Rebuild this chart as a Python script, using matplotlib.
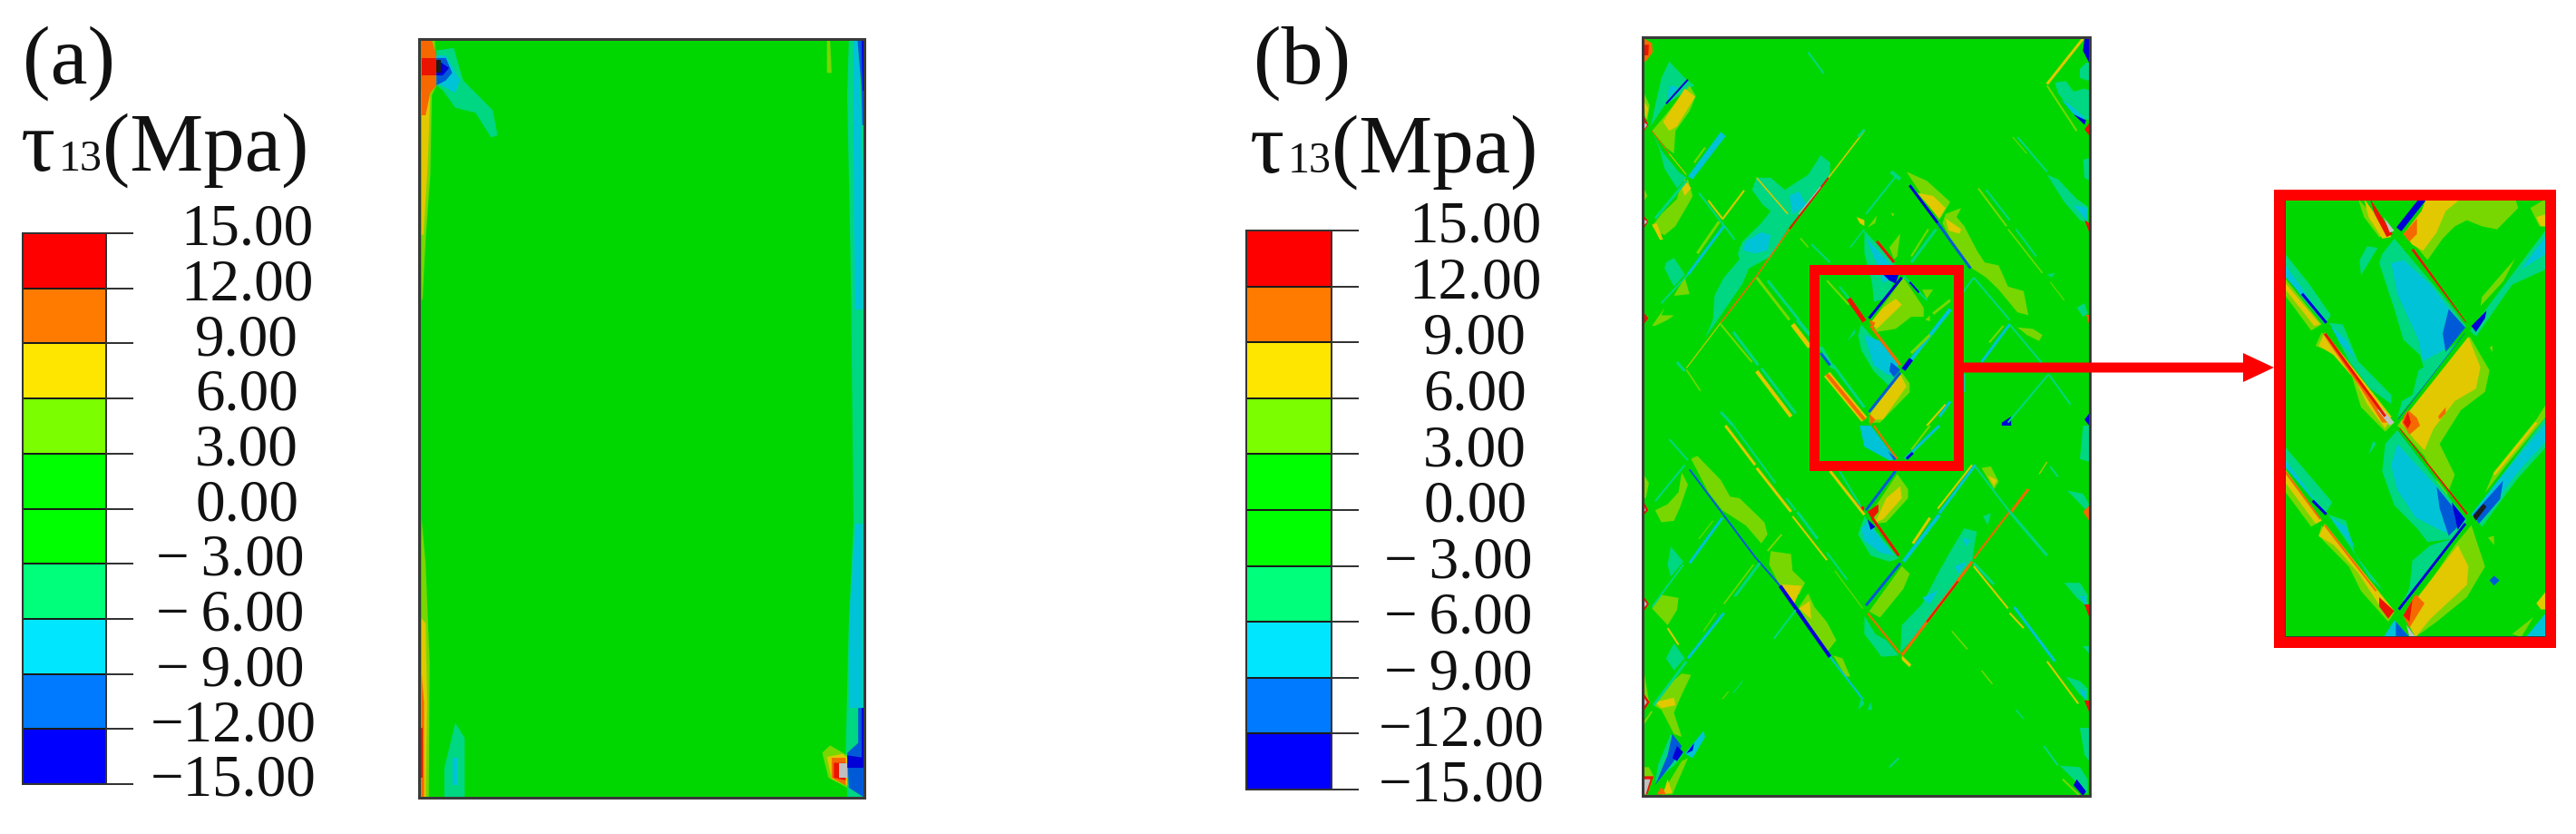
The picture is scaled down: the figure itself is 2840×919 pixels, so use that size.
import numpy as np
import matplotlib
matplotlib.use('Agg')
import matplotlib.pyplot as plt
from matplotlib.cm import ScalarMappable
from matplotlib.colors import BoundaryNorm, ListedColormap
from matplotlib.patches import Rectangle

plt.rcParams['font.family'] = ['Liberation Serif', 'DejaVu Serif']

W, H = 2840, 920
PX = 0.72  # one reference pixel in points at dpi 100

# legend of the contour plot
levels = [-15, -12, -9, -6, -3, 0, 3, 6, 9, 12, 15]
tick_labels = ['\u221215.00', '\u221212.00', '\u2212\u20099.00', '\u2212\u20096.00', '\u2212\u20093.00',
               '0.00', '3.00', '6.00', '9.00', '12.00', '15.00']
legend_colors = ['#0000ff', '#007bff', '#00e6ff', '#00ff7b', '#00ff00',
                 '#00ff00', '#7bff00', '#ffe600', '#ff7b00', '#ff0000']
field_colors = ['#0000d7', '#005ad7', '#00c3d7', '#00d782', '#00d700',
                '#00d700', '#78d700', '#e1c800', '#f56900', '#eb1400']

# stress value (MPa) standing for each contour band
LIME, YEL, ORG, RED, OVER = 4.5, 7.5, 10.5, 13.5, 18
TEAL, CYAN, BLUE, DEEP, UNDER = -4.5, -7.5, -10.5, -13.5, -18
MID = 0

# panel (a): contour regions
regions_a = [
    (LIME, [(72, 30), (115, 30), (120, 120), (105, 140), (100, 300), (85, 430), (75, 550), (72, 550)]),
    (YEL, [(72, 130), (100, 130), (92, 280), (78, 420), (72, 420)]),
    (ORG, [(72, 30), (105, 30), (120, 60), (120, 120), (100, 135), (85, 180), (72, 180)]),
    (RED, [(72, 65), (120, 65), (120, 100), (72, 100)]),
    (TEAL, [(120, 50), (175, 45), (205, 110), (300, 170), (315, 220), (295, 225), (245, 175), (180, 165), (140, 130), (120, 120)]),
    (CYAN, [(120, 60), (150, 60), (195, 110), (180, 135), (120, 115)]),
    (BLUE, [(120, 65), (150, 65), (170, 95), (150, 110), (120, 120)]),
    (DEEP, [(120, 68), (160, 85), (140, 100), (120, 100)]),
    (UNDER, [(120, 68), (135, 68), (135, 95), (120, 95)]),
    (LIME, [(72, 990), (85, 1080), (98, 1280), (95, 1550), (72, 1550)]),
    (YEL, [(72, 1190), (85, 1200), (90, 1360), (85, 1550), (72, 1550)]),
    (ORG, [(72, 1300), (80, 1360), (80, 1550), (72, 1550)]),
    (RED, [(68, 1410), (75, 1410), (75, 1510), (68, 1510)]),
    (TEAL, [(180, 1400), (210, 1430), (210, 1550), (145, 1550), (145, 1490)]),
    (CYAN, [(172, 1470), (185, 1470), (185, 1525), (172, 1525)]),
    (LIME, [(1370, 30), (1380, 30), (1385, 95), (1370, 95)]),
    (TEAL, [(1440, 30), (1490, 30), (1490, 1550), (1435, 1550), (1430, 1460), (1440, 1200), (1455, 1000), (1450, 700), (1445, 450), (1435, 140)]),
    (CYAN, [(1455, 30), (1470, 30), (1485, 300), (1485, 570), (1460, 570), (1455, 250)]),
    (BLUE, [(1468, 30), (1490, 30), (1490, 200), (1483, 200), (1480, 120)]),
    (DEEP, [(1480, 30), (1490, 30), (1490, 130), (1485, 130)]),
    (CYAN, [(1460, 1000), (1485, 1000), (1485, 1370), (1440, 1370), (1440, 1200)]),
    (BLUE, [(1470, 1370), (1490, 1370), (1490, 1550), (1440, 1530), (1435, 1460), (1470, 1440)]),
    (DEEP, [(1480, 1370), (1490, 1370), (1490, 1470), (1480, 1470)]),
    (DEEP, [(1435, 1465), (1490, 1470), (1490, 1490), (1435, 1490)]),
    (LIME, [(1355, 1460), (1380, 1445), (1435, 1465), (1435, 1530), (1375, 1510)]),
    (YEL, [(1370, 1468), (1420, 1462), (1435, 1470), (1435, 1525), (1385, 1512)]),
    (ORG, [(1385, 1470), (1430, 1470), (1430, 1525), (1385, 1510)]),
    (RED, [(1392, 1480), (1430, 1480), (1430, 1515), (1392, 1510)]),
    (OVER, [(1410, 1480), (1435, 1480), (1435, 1510), (1410, 1510)]),
]

# panel (b), upper half: regions, then (value, width, points) streaks
regions_b_top = [
    (ORG, [(92, 68), (120, 85), (122, 115), (100, 145), (92, 145)]),
    (RED, [(92, 90), (110, 90), (108, 125), (92, 125)]),
    (LIME, [(92, 245), (112, 290), (105, 340), (92, 320)]),
    (YEL, [(95, 280), (108, 300), (100, 340)]),
    (RED, [(92, 320), (108, 355), (95, 375), (90, 370)]),
    (OVER, [(92, 345), (105, 355), (95, 370)]),
    (RED, [(90, 650), (108, 675), (92, 700)]),
    (OVER, [(90, 665), (105, 675), (92, 690)]),
    (RED, [(90, 970), (108, 995), (90, 1020)]),
    (LIME, [(92, 560), (105, 590), (92, 610)]),
    (TEAL, [(175, 145), (225, 200), (255, 225), (160, 290), (115, 360), (150, 200)]),
    (CYAN, [(175, 225), (205, 230), (170, 270)]),
    (LIME, [(240, 225), (260, 260), (240, 310), (195, 375), (190, 450), (165, 430), (120, 375), (165, 320)]),
    (YEL, [(225, 235), (258, 262), (200, 360), (175, 375), (155, 345)]),
    (TEAL, [(125, 385), (150, 440), (205, 510), (230, 530), (200, 565), (160, 500), (145, 440)]),
    (CYAN, [(340, 378), (356, 392), (250, 535), (235, 525)]),
    (LIME, [(235, 535), (250, 590), (240, 610), (195, 690), (160, 720), (140, 710), (120, 690), (150, 650), (200, 600), (210, 560)]),
    (YEL, [(225, 535), (245, 565), (225, 590), (215, 565)]),
    (YEL, [(120, 685), (135, 680), (155, 735), (145, 735)]),
    (TEAL, [(165, 810), (190, 795), (225, 850), (190, 890), (160, 830)]),
    (LIME, [(190, 920), (225, 860), (240, 915), (195, 920)]),
    (LIME, [(120, 1020), (160, 960), (150, 985), (190, 985), (170, 1000), (130, 1020)]),
    (TEAL, [(455, 530), (500, 530), (545, 570), (620, 520), (660, 455), (690, 480), (690, 520), (600, 640), (560, 690), (500, 790), (430, 830), (410, 880), (340, 985), (290, 1060), (315, 1000), (320, 920), (350, 860), (400, 800), (395, 780), (410, 740), (470, 680), (500, 640), (475, 620), (440, 570)]),
    (CYAN, [(560, 590), (590, 575), (615, 620), (570, 650)]),
    (CYAN, [(420, 740), (470, 710), (500, 720), (490, 770), (450, 780), (410, 770)]),
    (LIME, [(935, 510), (1000, 540), (1075, 610), (1040, 670), (985, 590)]),
    (YEL, [(970, 580), (1020, 590), (1060, 630), (1040, 665)]),
    (LIME, [(1060, 650), (1110, 630), (1095, 660), (1120, 690), (1160, 770), (1185, 810), (1230, 820), (1260, 890), (1310, 905), (1325, 985), (1290, 975), (1230, 900), (1190, 860), (1145, 830), (1090, 760), (1050, 680)]),
    (YEL, [(1060, 665), (1110, 700), (1105, 715), (1070, 705)]),
    (YEL, [(775, 660), (800, 670), (800, 690), (785, 680)]),
    (LIME, [(810, 695), (840, 655), (835, 680)]),
    (LIME, [(885, 645), (897, 650), (890, 658)]),
    (TEAL, [(800, 705), (895, 810), (905, 850), (870, 930), (830, 940), (825, 880), (800, 780)]),
    (CYAN, [(805, 730), (880, 810), (900, 850), (860, 880), (840, 815)]),
    (LIME, [(880, 760), (915, 715), (905, 790), (895, 800)]),
    (DEEP, [(860, 850), (910, 850), (900, 880), (880, 870)]),
    (LIME, [(925, 860), (990, 960), (990, 990), (950, 990), (900, 1030), (840, 1040), (820, 1010)]),
    (YEL, [(860, 960), (900, 930), (920, 950), (880, 990), (840, 1030), (820, 1010)]),
    (ORG, [(815, 1000), (835, 1010), (825, 1030)]),
    (LIME, [(985, 900), (1020, 900), (1000, 930)]),
    (LIME, [(995, 1000), (1010, 985), (1010, 1005)]),
    (TEAL, [(745, 1070), (770, 1030), (770, 1045)]),
    (TEAL, [(790, 1015), (915, 1165), (880, 1220), (830, 1170), (790, 1100), (780, 1050)]),
    (CYAN, [(800, 1050), (850, 1070), (910, 1150), (880, 1185), (830, 1150)]),
    (BLUE, [(885, 1140), (915, 1165), (895, 1190), (880, 1170)]),
    (LIME, [(920, 1175), (945, 1210), (945, 1240), (850, 1340), (815, 1340), (815, 1310)]),
    (YEL, [(915, 1180), (935, 1220), (860, 1330), (825, 1330), (820, 1310)]),
    (ORG, [(815, 1310), (835, 1330), (820, 1350)]),
    (LIME, [(1290, 1025), (1340, 1030), (1370, 1050), (1360, 1070), (1320, 1050)]),
    (DEEP, [(1240, 1340), (1270, 1320), (1270, 1350), (1240, 1350)]),
    (DEEP, [(1505, 1330), (1520, 1310), (1520, 1350)]),
    (DEEP, [(1505, 70), (1520, 70), (1520, 150), (1500, 110)]),
    (TEAL, [(1510, 150), (1520, 150), (1520, 210), (1490, 200), (1490, 170)]),
    (TEAL, [(1410, 215), (1445, 210), (1470, 245), (1505, 235), (1520, 240), (1520, 340), (1490, 330), (1450, 290), (1420, 250)]),
    (CYAN, [(1430, 270), (1460, 290), (1505, 330), (1505, 350), (1470, 320)]),
    (DEEP, [(1470, 320), (1510, 340), (1505, 355)]),
    (RED, [(1520, 350), (1505, 370), (1520, 390)]),
    (TEAL, [(1385, 520), (1420, 535), (1480, 600), (1515, 625), (1515, 680), (1490, 670), (1440, 610)]),
    (CYAN, [(1470, 620), (1515, 630), (1515, 675)]),
    (TEAL, [(1500, 470), (1520, 465), (1520, 540), (1505, 530)]),
    (TEAL, [(1385, 850), (1410, 845), (1400, 860)]),
    (RED, [(1505, 670), (1520, 680), (1520, 710)]),
    (TEAL, [(1480, 960), (1505, 945), (1515, 980), (1500, 990)]),
    (ORG, [(1510, 985), (1520, 985), (1520, 1015)]),
]
streaks_b_top = [
    (DEEP, 2, [(235, 205), (165, 285)]),
    (ORG, 1, [(120, 375), (175, 450)]),
    (YEL, 1, [(175, 450), (230, 520)]),
    (LIME, 2, [(290, 430), (255, 480)]),
    (TEAL, 3, [(230, 540), (130, 665)]),
    (YEL, 2, [(415, 572), (345, 668)]),
    (LIME, 3, [(335, 675), (265, 780)]),
    (TEAL, 2, [(270, 580), (385, 735)]),
    (YEL, 2, [(300, 605), (345, 665)]),
    (CYAN, 3, [(350, 690), (235, 850)]),
    (TEAL, 2, [(235, 850), (150, 945)]),
    (YEL, 1.5, [(800, 375), (685, 530)]),
    (RED, 2, [(685, 530), (560, 700)]),
    (OVER, 1, [(660, 560), (590, 650)]),
    (ORG, 1.5, [(560, 700), (455, 855)]),
    (ORG, 1.5, [(455, 855), (340, 1010)]),
    (YEL, 1, [(340, 1010), (230, 1160)]),
    (YEL, 1.5, [(455, 530), (555, 650)]),
    (TEAL, 2, [(400, 760), (450, 810)]),
    (LIME, 3, [(455, 860), (560, 1000)]),
    (TEAL, 3, [(490, 870), (590, 1000)]),
    (LIME, 2, [(340, 1015), (440, 1140)]),
    (TEAL, 3, [(380, 1040), (460, 1150)]),
    (YEL, 4, [(455, 1170), (565, 1320)]),
    (TEAL, 3, [(470, 1160), (580, 1310)]),
    (YEL, 5, [(570, 1015), (625, 1090)]),
    (TEAL, 4, [(585, 1000), (625, 1050)]),
    (LIME, 1.5, [(230, 1165), (275, 1235)]),
    (TEAL, 3, [(200, 1140), (225, 1170)]),
    (TEAL, 3, [(340, 1305), (380, 1350)]),
    (TEAL, 2, [(620, 115), (670, 185)]),
    (TEAL, 3, [(800, 370), (780, 395)]),
    (TEAL, 2, [(905, 520), (805, 650)]),
    (TEAL, 4, [(885, 510), (915, 535)]),
    (DEEP, 3, [(945, 555), (1035, 680)]),
    (BLUE, 3, [(1035, 680), (1140, 830)]),
    (TEAL, 3, [(1030, 700), (950, 810)]),
    (LIME, 2, [(1005, 700), (950, 790)]),
    (TEAL, 1.5, [(800, 700), (755, 760)]),
    (RED, 3, [(840, 740), (895, 810)]),
    (DEEP, 3, [(920, 860), (815, 995)]),
    (TEAL, 2, [(925, 855), (1000, 935)]),
    (DEEP, 2, [(945, 875), (975, 910)]),
    (LIME, 3, [(1020, 980), (1075, 935)]),
    (LIME, 2, [(680, 870), (750, 950)]),
    (TEAL, 2, [(720, 890), (755, 935)]),
    (RED, 5, [(750, 930), (800, 1005)]),
    (ORG, 3, [(820, 1020), (915, 1150)]),
    (CYAN, 4, [(925, 1165), (1075, 965)]),
    (DEEP, 5, [(925, 1165), (950, 1130)]),
    (LIME, 3, [(950, 1110), (1010, 1050)]),
    (BLUE, 3, [(915, 1175), (815, 1305)]),
    (YEL, 8, [(680, 1180), (800, 1330)]),
    (ORG, 4, [(680, 1180), (800, 1330)]),
    (TEAL, 3, [(700, 1150), (800, 1290)]),
    (TEAL, 4, [(660, 1090), (700, 1160)]),
    (BLUE, 3, [(660, 1110), (690, 1150)]),
    (TEAL, 2, [(1150, 860), (1115, 910)]),
    (TEAL, 2, [(1150, 860), (1265, 1000)]),
    (LIME, 2, [(1245, 1020), (1200, 1075)]),
    (CYAN, 3, [(1265, 1015), (1175, 1140)]),
    (TEAL, 2, [(1265, 1015), (1370, 1145)]),
    (TEAL, 2, [(1390, 1180), (1260, 1340)]),
    (TEAL, 2, [(1390, 1180), (1460, 1280)]),
    (CYAN, 4, [(1115, 1180), (1115, 1240)]),
    (YEL, 2, [(1060, 1280), (1000, 1350)]),
    (CYAN, 3, [(1075, 1270), (1040, 1320)]),
    (YEL, 3, [(1500, 70), (1385, 220)]),
    (LIME, 2, [(1385, 225), (1480, 375)]),
    (TEAL, 2, [(1290, 395), (1385, 510)]),
    (LIME, 1, [(1275, 395), (1320, 450)]),
    (LIME, 2, [(1165, 565), (1255, 690)]),
    (TEAL, 2, [(1190, 570), (1265, 670)]),
    (LIME, 1.5, [(1260, 700), (1370, 845)]),
    (TEAL, 2, [(1285, 700), (1350, 790)]),
    (LIME, 1, [(1395, 875), (1440, 935)]),
    (LIME, 1.5, [(595, 730), (620, 760)]),
    (TEAL, 2, [(630, 750), (690, 810)]),
]

# panel (b), lower half, same form, counted from the middle of the panel
regions_b_low = [
    (LIME, [(245, 110), (265, 100), (340, 180), (370, 235), (400, 240), (480, 320), (490, 360), (470, 390), (420, 330), (375, 300), (345, 280), (300, 220)]),
    (LIME, [(215, 155), (235, 195), (210, 270), (190, 315), (150, 320), (130, 280), (170, 260), (205, 220)]),
    (LIME, [(92, 160), (110, 190), (100, 240), (92, 240)]),
    (RED, [(90, 245), (108, 280), (90, 300)]),
    (OVER, [(90, 255), (100, 280), (90, 290)]),
    (TEAL, [(180, 400), (220, 450), (180, 500), (170, 460)]),
    (LIME, [(150, 560), (205, 570), (200, 610), (170, 660), (120, 605)]),
    (RED, [(90, 560), (110, 590), (90, 620)]),
    (OVER, [(90, 572), (104, 590), (90, 608)]),
    (TEAL, [(190, 720), (225, 770), (190, 810), (165, 770)]),
    (LIME, [(215, 820), (245, 825), (215, 890), (190, 950), (215, 1030), (190, 1020), (150, 940), (125, 925), (170, 860)]),
    (YEL, [(130, 915), (190, 900), (195, 925), (150, 935)]),
    (LIME, [(92, 800), (105, 880), (110, 910), (92, 950)]),
    (RED, [(90, 880), (112, 915), (90, 950)]),
    (OVER, [(90, 895), (104, 915), (90, 935)]),
    (TEAL, [(180, 1020), (140, 1120), (130, 1180), (195, 1120), (220, 1085)]),
    (BLUE, [(185, 1020), (215, 1060), (190, 1110), (130, 1190), (170, 1090)]),
    (DEEP, [(200, 1060), (220, 1080), (200, 1110), (185, 1100)]),
    (CYAN, [(285, 1010), (290, 1030), (250, 1100), (225, 1085)]),
    (DEEP, [(255, 1050), (230, 1085), (250, 1075)]),
    (LIME, [(215, 1110), (235, 1100), (185, 1220), (150, 1220)]),
    (YEL, [(170, 1170), (185, 1215), (155, 1220)]),
    (ORG, [(150, 1195), (165, 1220), (135, 1220)]),
    (LIME, [(92, 1130), (110, 1130), (125, 1160), (105, 1220), (92, 1220)]),
    (RED, [(92, 1160), (125, 1160), (105, 1220), (92, 1220)]),
    (OVER, [(92, 1170), (115, 1170), (100, 1220), (92, 1220)]),
    (LIME, [(500, 415), (565, 425), (570, 480), (610, 520), (590, 560), (530, 530), (495, 460)]),
    (YEL, [(530, 525), (600, 530), (575, 590)]),
    (LIME, [(590, 600), (620, 555), (640, 600), (680, 650), (710, 710), (680, 750), (640, 690)]),
    (YEL, [(590, 605), (625, 580), (630, 640)]),
    (LIME, [(700, 760), (730, 770), (755, 830), (740, 830)]),
    (TEAL, [(790, 900), (800, 920), (780, 940)]),
    (TEAL, [(820, 915), (825, 940), (810, 940)]),
    (CYAN, [(785, 0), (820, 0), (900, 110), (880, 115), (800, 70)]),
    (BLUE, [(875, 85), (905, 110), (895, 115)]),
    (LIME, [(905, 160), (940, 210), (940, 240), (870, 320), (835, 325), (820, 290)]),
    (YEL, [(870, 240), (915, 200), (920, 240), (860, 310), (835, 320)]),
    (RED, [(810, 285), (845, 260), (845, 285), (825, 310)]),
    (RED, [(775, 255), (800, 270), (795, 295)]),
    (TEAL, [(800, 300), (910, 440), (880, 450), (820, 430), (780, 360)]),
    (CYAN, [(810, 320), (895, 430), (850, 420), (800, 380), (790, 340)]),
    (DEEP, [(810, 310), (835, 335), (820, 345)]),
    (LIME, [(920, 465), (945, 490), (925, 540), (850, 635), (815, 615)]),
    (TEAL, [(800, 630), (835, 690), (870, 710), (910, 760), (855, 765), (830, 730), (800, 690)]),
    (YEL, [(920, 760), (950, 790), (945, 800), (920, 775)]),
    (TEAL, [(915, 750), (920, 660), (985, 590), (1040, 480), (1090, 390), (1120, 340), (1160, 350), (1150, 410), (1145, 450), (1040, 590), (960, 700)]),
    (CYAN, [(985, 570), (1035, 545), (1010, 590)]),
    (CYAN, [(1090, 465), (1130, 450), (1100, 490)]),
    (CYAN, [(1115, 370), (1140, 380), (1125, 400)]),
    (TEAL, [(1180, 300), (1205, 290), (1195, 330)]),
    (LIME, [(1175, 140), (1205, 135), (1230, 185), (1215, 210)]),
    (YEL, [(1195, 165), (1225, 180), (1215, 200)]),
    (TEAL, [(1440, 520), (1490, 520), (1515, 560), (1515, 600), (1480, 570)]),
    (CYAN, [(1490, 565), (1510, 565), (1510, 600)]),
    (TEAL, [(1450, 215), (1500, 225), (1520, 260), (1510, 280)]),
    (ORG, [(1500, 285), (1520, 265), (1520, 315)]),
    (RED, [(1505, 590), (1520, 590), (1520, 630)]),
    (TEAL, [(1445, 830), (1490, 845), (1515, 870), (1515, 910), (1490, 890)]),
    (CYAN, [(1490, 870), (1510, 880), (1505, 910)]),
    (RED, [(1505, 910), (1520, 910), (1520, 945)]),
    (TEAL, [(1500, 0), (1520, 0), (1520, 120), (1490, 110), (1495, 60)]),
    (TEAL, [(1425, 1125), (1490, 1130), (1515, 1170), (1515, 1220), (1470, 1170)]),
    (DEEP, [(1480, 1170), (1510, 1210), (1500, 1225), (1470, 1190)]),
    (TEAL, [(1490, 1000), (1520, 1000), (1520, 1110), (1505, 1090)]),
    (TEAL, [(1500, 730), (1520, 730), (1520, 755)]),
]
streaks_b_low = [
    (TEAL, 2, [(175, 45), (235, 115)]),
    (TEAL, 2, [(225, 130), (130, 250)]),
    (BLUE, 2, [(240, 145), (345, 290)]),
    (BLUE, 2, [(345, 290), (450, 435)]),
    (BLUE, 2, [(450, 435), (530, 530)]),
    (DEEP, 4, [(530, 530), (690, 765)]),
    (CYAN, 2, [(690, 765), (795, 905)]),
    (CYAN, 3, [(345, 305), (240, 455)]),
    (LIME, 1, [(315, 315), (270, 375)]),
    (TEAL, 2, [(220, 460), (120, 600)]),
    (YEL, 2, [(170, 670), (205, 725)]),
    (CYAN, 3, [(350, 620), (235, 770)]),
    (LIME, 1, [(325, 620), (285, 680)]),
    (TEAL, 3, [(230, 780), (125, 925)]),
    (LIME, 2, [(120, 945), (90, 990)]),
    (YEL, 3, [(355, 0), (450, 130)]),
    (TEAL, 2, [(380, 0), (515, 190)]),
    (YEL, 3, [(455, 140), (565, 285)]),
    (TEAL, 2, [(550, 240), (580, 280)]),
    (YEL, 2, [(570, 300), (680, 445)]),
    (TEAL, 3, [(585, 285), (650, 375)]),
    (TEAL, 2, [(680, 420), (745, 510)]),
    (LIME, 1, [(705, 480), (795, 605)]),
    (LIME, 2, [(535, 360), (490, 415)]),
    (TEAL, 3, [(465, 455), (385, 565)]),
    (LIME, 1.5, [(445, 460), (350, 590)]),
    (TEAL, 2, [(580, 610), (510, 705)]),
    (LIME, 1, [(345, 905), (365, 880)]),
    (TEAL, 1, [(380, 885), (410, 845)]),
    (TEAL, 2, [(880, 1130), (910, 1100)]),
    (ORG, 2, [(830, 0), (905, 110)]),
    (LIME, 2, [(1010, 0), (950, 80)]),
    (CYAN, 3, [(1040, 0), (930, 110)]),
    (DEEP, 3, [(955, 90), (935, 110)]),
    (BLUE, 3, [(900, 150), (805, 280)]),
    (TEAL, 2, [(720, 150), (790, 270)]),
    (YEL, 3, [(690, 150), (800, 295)]),
    (RED, 3, [(825, 305), (910, 430)]),
    (BLUE, 3, [(915, 455), (805, 595)]),
    (ORG, 2, [(810, 620), (915, 755)]),
    (ORG, 3, [(920, 760), (1145, 450)]),
    (RED, 2, [(1000, 650), (1100, 515)]),
    (ORG, 2, [(1150, 440), (1265, 285)]),
    (ORG, 3, [(1270, 285), (1325, 210)]),
    (TEAL, 3, [(1150, 455), (1215, 525)]),
    (YEL, 2, [(1150, 465), (1260, 605)]),
    (TEAL, 3, [(1265, 285), (1385, 430)]),
    (CYAN, 3, [(1155, 130), (1040, 290)]),
    (YEL, 2, [(1145, 130), (1035, 275)]),
    (TEAL, 2, [(1155, 135), (1265, 285)]),
    (CYAN, 4, [(1040, 295), (925, 450)]),
    (YEL, 3, [(1010, 305), (955, 390)]),
    (CYAN, 3, [(1280, 600), (1410, 780)]),
    (YEL, 2, [(1265, 620), (1310, 670)]),
    (YEL, 2, [(1385, 780), (1485, 920)]),
    (LIME, 1.5, [(1080, 680), (1130, 740)]),
    (LIME, 1.5, [(1175, 810), (1210, 855)]),
    (YEL, 1, [(1385, 120), (1360, 160)]),
    (TEAL, 2, [(1395, 135), (1420, 170)]),
    (TEAL, 1.5, [(1285, 940), (1310, 970)]),
    (TEAL, 2, [(1375, 1060), (1420, 1125)]),
    (LIME, 2, [(1435, 1170), (1490, 1225)]),
]

# enlarged detail to the right of panel (b)
regions_zoom = [
    (LIME, [(360, 60), (470, 180), (430, 185), (380, 120)]),
    (YEL, [(380, 60), (470, 185), (440, 190), (395, 120)]),
    (RED, [(400, 60), (475, 175), (455, 185), (415, 110)]),
    (OVER, [(445, 120), (480, 165), (465, 170)]),
    (LIME, [(590, 60), (880, 60), (890, 90), (820, 160), (770, 150), (720, 130), (680, 150), (640, 190), (590, 260), (530, 190)]),
    (YEL, [(585, 60), (700, 60), (650, 100), (620, 170), (575, 230), (540, 210), (510, 175), (570, 100)]),
    (ORG, [(510, 175), (555, 125), (555, 175), (530, 200)]),
    (LIME, [(930, 90), (982, 60), (982, 150), (960, 150)]),
    (YEL, [(950, 120), (982, 110), (982, 150), (965, 150)]),
    (TEAL, [(480, 190), (720, 470), (650, 560), (580, 620), (565, 570), (510, 520), (480, 420), (430, 270), (440, 240)]),
    (CYAN, [(470, 270), (510, 260), (600, 340), (670, 430), (650, 550), (575, 590), (560, 520), (490, 370)]),
    (BLUE, [(660, 420), (715, 480), (650, 560), (640, 500)]),
    (TEAL, [(425, 220), (370, 310), (365, 260), (390, 215)]),
    (TEAL, [(982, 160), (982, 290), (870, 340), (750, 510), (730, 490)]),
    (CYAN, [(982, 180), (982, 240), (900, 290), (750, 490)]),
    (DEEP, [(785, 425), (735, 475), (750, 495), (780, 450)]),
    (LIME, [(880, 255), (770, 380), (765, 410), (840, 330)]),
    (TEAL, [(115, 235), (200, 340), (270, 440), (250, 470), (180, 390), (115, 300)]),
    (CYAN, [(115, 270), (180, 360), (250, 460), (115, 310)]),
    (LIME, [(115, 315), (240, 470), (205, 490), (160, 430), (115, 370)]),
    (YEL, [(115, 330), (235, 470), (215, 475), (115, 350)]),
    (TEAL, [(265, 465), (310, 470), (360, 590), (470, 700), (470, 730), (400, 680), (330, 590)]),
    (CYAN, [(270, 475), (320, 520), (350, 580), (300, 530)]),
    (LIME, [(240, 495), (300, 570), (480, 790), (450, 820), (370, 740), (340, 640), (270, 560), (220, 540)]),
    (YEL, [(250, 495), (470, 770), (450, 810), (390, 730), (350, 650), (280, 570), (230, 540)]),
    (ORG, [(245, 505), (420, 720), (470, 790), (440, 790), (370, 680), (270, 540)]),
    (OVER, [(430, 735), (480, 790), (465, 800), (425, 750)]),
    (TEAL, [(505, 720), (540, 700), (560, 620), (650, 560), (715, 505), (490, 775), (500, 740)]),
    (LIME, [(730, 510), (795, 620), (780, 690), (700, 750), (630, 860), (680, 960), (650, 1040), (580, 900), (490, 800)]),
    (YEL, [(725, 510), (765, 610), (750, 680), (680, 720), (610, 810), (580, 880), (550, 850), (500, 790)]),
    (ORG, [(520, 745), (555, 775), (565, 800), (530, 830), (505, 790)]),
    (RED, [(525, 755), (510, 790), (525, 810), (535, 790)]),
    (ORG, [(625, 770), (650, 740), (650, 760), (630, 780)]),
    (TEAL, [(490, 815), (720, 1110), (670, 1170), (590, 1180), (555, 1135), (480, 1060), (440, 950), (450, 860)]),
    (CYAN, [(490, 860), (620, 1000), (680, 1140), (650, 1150), (550, 1100), (490, 1010), (470, 930)]),
    (BLUE, [(620, 1000), (710, 1110), (660, 1160), (630, 1070)]),
    (DEEP, [(670, 1050), (715, 1105), (690, 1140)]),
    (TEAL, [(410, 850), (395, 895), (420, 860)]),
    (TEAL, [(982, 770), (982, 870), (890, 970), (770, 1130), (735, 1090), (830, 970)]),
    (CYAN, [(982, 790), (982, 850), (890, 950), (760, 1120), (735, 1090), (830, 970)]),
    (BLUE, [(840, 980), (740, 1090), (760, 1120), (830, 1040)]),
    (UNDER, [(775, 1055), (740, 1095), (750, 1110), (785, 1065)]),
    (LIME, [(950, 780), (982, 730), (982, 770), (850, 930), (780, 1020), (810, 950)]),
    (TEAL, [(115, 865), (275, 1050), (250, 1090), (115, 930)]),
    (CYAN, [(115, 905), (245, 1080), (115, 930)]),
    (LIME, [(115, 935), (240, 1110), (205, 1130), (115, 1010)]),
    (YEL, [(115, 950), (240, 1110), (220, 1120), (115, 980)]),
    (TEAL, [(260, 1090), (320, 1110), (350, 1220), (445, 1340), (400, 1300), (330, 1190)]),
    (CYAN, [(270, 1100), (320, 1130), (350, 1200), (300, 1140)]),
    (LIME, [(240, 1125), (290, 1200), (480, 1410), (460, 1440), (370, 1340), (330, 1260), (230, 1160)]),
    (YEL, [(250, 1120), (480, 1405), (460, 1430), (360, 1280), (280, 1190), (230, 1160)]),
    (RED, [(430, 1360), (480, 1405), (460, 1430), (430, 1390)]),
    (TEAL, [(495, 1400), (530, 1330), (540, 1240), (600, 1190), (670, 1170), (700, 1130)]),
    (LIME, [(735, 1125), (780, 1260), (720, 1360), (620, 1440), (550, 1490), (520, 1425), (680, 1190)]),
    (YEL, [(690, 1190), (725, 1260), (720, 1320), (600, 1430), (550, 1490), (510, 1420)]),
    (ORG, [(550, 1350), (580, 1380), (530, 1460), (510, 1420)]),
    (RED, [(510, 1420), (540, 1370), (530, 1440)]),
    (OVER, [(520, 1450), (550, 1490), (530, 1490)]),
    (CYAN, [(480, 1435), (530, 1490), (445, 1490)]),
    (BLUE, [(485, 1440), (530, 1490), (485, 1490)]),
    (BLUE, [(795, 1305), (810, 1290), (828, 1305), (810, 1322)]),
    (LIME, [(790, 1165), (810, 1160), (810, 1190)]),
    (LIME, [(795, 545), (805, 540), (805, 560)]),
    (YEL, [(950, 1380), (982, 1340), (982, 1400), (965, 1400)]),
    (CYAN, [(915, 1490), (982, 1410), (982, 1490)]),
    (LIME, [(870, 1480), (940, 1425), (900, 1490)]),
]
streaks_zoom = [
    (DEEP, 7, [(575, 60), (495, 160)]),
    (RED, 3, [(540, 225), (715, 465)]),
    (DEEP, 3, [(175, 370), (255, 465)]),
    (RED, 3, [(250, 500), (450, 770)]),
    (BLUE, 2, [(715, 500), (495, 780)]),
    (RED, 3, [(495, 810), (720, 1090)]),
    (YEL, 3, [(950, 790), (810, 960)]),
    (DEEP, 3, [(210, 1045), (255, 1090)]),
    (ORG, 2, [(115, 945), (235, 1105)]),
    (ORG, 2, [(250, 1125), (420, 1340)]),
    (DEEP, 3, [(715, 1120), (495, 1400)]),
    (MID, 2, [(485, 165), (725, 480)]),
    (MID, 2, [(725, 490), (490, 790)]),
    (MID, 2, [(485, 800), (730, 1110)]),
    (MID, 2, [(725, 1120), (490, 1420)]),
]

# where the drawings sit, in reference pixels
bar_a = (25, 258, 117, 865)
bar_b = (1374, 255, 1468, 871)
panel_a = (462, 44, 953, 880)
panel_b = (1811, 42, 2304, 878)
panel_zoom = (2518, 220, 2807, 703)


def axes_px(fig, box, **kw):
    x0, y0, x1, y1 = box
    return fig.add_axes([x0 / W, 1 - y1 / H, (x1 - x0) / W, (y1 - y0) / H], **kw)


field_cmap = ListedColormap(field_colors)
field_cmap.set_over('#c0c0c0')
field_cmap.set_under('#1c1c1c')
norm = BoundaryNorm(levels, 10)


def draw_field(ax, xlim, ylim, regions, streaks, v_shift=0):
    ax.set_xlim(*xlim)
    ax.set_ylim(*ylim)
    ax.set_autoscale_on(False)
    for value, pts in regions:
        xs, ys = zip(*pts)
        ax.fill(xs, np.array(ys) + v_shift, color=field_cmap(norm(value)), lw=0)
    for value, width, pts in streaks:
        xs, ys = zip(*pts)
        ax.plot(xs, np.array(ys) + v_shift, color=field_cmap(norm(value)),
                lw=width * PX, solid_capstyle='butt')


def style_panel(ax):
    ax.set_facecolor(field_colors[5])
    ax.set_xticks([])
    ax.set_yticks([])
    for s in ax.spines.values():
        s.set_color('#3a3a3a')
        s.set_linewidth(3 * PX)


def colorbar(fig, box, tick_px, label_x):
    cax = axes_px(fig, box)
    sm = ScalarMappable(norm=norm, cmap=ListedColormap(legend_colors))
    cb = fig.colorbar(sm, cax=cax, spacing='uniform', drawedges=True)
    cb.dividers.set_color('#1a1a1a')
    cb.dividers.set_linewidth(2 * PX)
    cb.outline.set_edgecolor('#333333')
    cb.outline.set_linewidth(2 * PX)
    cb.set_ticks(levels)
    cb.set_ticklabels([''] * len(levels))
    cax.tick_params(axis='y', length=tick_px * PX, width=2 * PX, color='#333333')
    for v, lab in zip(levels, tick_labels):
        # labels are centred by hand, the negative ones sit further left
        x = label_x - (15 if v < -9 else 18 if v < 0 else 0)
        cax.annotate(lab, xy=(1, v), xycoords=cax.get_yaxis_transform(),
                     xytext=((x - box[2]) * PX, 4 * PX), textcoords='offset points',
                     ha='center', va='center', fontsize=65 * PX, color='#111111',
                     annotation_clip=False)


fig = plt.figure(figsize=(W / 100, H / 100), dpi=100, facecolor='white')

colorbar(fig, bar_a, 30, 272)
colorbar(fig, bar_b, 30, 1626)

ax_a = axes_px(fig, panel_a)
style_panel(ax_a)
draw_field(ax_a, (64, 1490), (1550, 27), regions_a, [])

ax_b = axes_px(fig, panel_b)
style_panel(ax_b)
draw_field(ax_b, (90, 1522), (2575, 65), regions_b_top, streaks_b_top)
draw_field(ax_b, (90, 1522), (2575, 65), regions_b_low, streaks_b_low, v_shift=1350)

ax_z = axes_px(fig, panel_zoom)
style_panel(ax_z)
draw_field(ax_z, (115, 982), (1490, 60), regions_zoom, streaks_zoom)

# page layer for labels, frames and the arrow
page = fig.add_axes([0, 0, 1, 1], facecolor='none')
page.set_xlim(0, W)
page.set_ylim(H, 0)
page.axis('off')

for label, x, x_tau, base in [('(a)', 25, 23, 188), ('(b)', 1382, 1378, 190)]:
    page.text(x, 92, label, fontsize=92 * PX, ha='left', va='baseline', color='#111111')
    page.text(x_tau, base, '\u03c4', fontsize=95 * PX, ha='left', va='baseline', color='#111111')
    page.text(x_tau + 42, base, '13', fontsize=48 * PX, ha='left', va='baseline', color='#111111')
    page.text(x_tau + 90, base, '(Mpa)', fontsize=91 * PX, ha='left', va='baseline', color='#111111')

page.add_patch(Rectangle((1999.5, 297.5), 159, 216, fill=False, ec='#ff0000', lw=11 * PX))
page.add_patch(Rectangle((2513, 216), 299, 493, fill=False, ec='#ff0000', lw=12 * PX))
page.arrow(2164, 406, 343, 0, width=11, head_width=32, head_length=34,
           length_includes_head=True, color='#ff0000', lw=0)

fig.savefig('out.png', dpi=100, facecolor='white')
